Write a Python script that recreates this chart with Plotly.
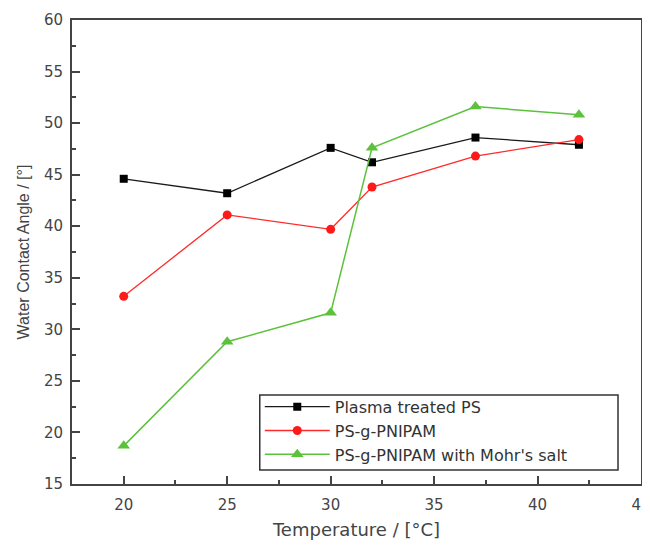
import plotly.graph_objects as go

temperature = [20, 25, 30, 32, 37, 42]
plasma_ps = [44.6, 43.2, 47.6, 46.2, 48.6, 47.9]
ps_g_pnipam = [33.2, 41.1, 39.7, 43.8, 46.8, 48.4]
ps_g_pnipam_mohr = [18.7, 28.8, 31.6, 47.6, 51.6, 50.8]

series_names = ["Plasma treated PS", "PS-g-PNIPAM", "PS-g-PNIPAM with Mohr's salt"]
x_ticks = [20, 25, 30, 35, 40, 45]
y_ticks = [15, 20, 25, 30, 35, 40, 45, 50, 55, 60]

fig = go.Figure()
fig.add_trace(go.Scatter(x=temperature, y=plasma_ps, name=series_names[0],
                         mode="lines+markers",
                         line=dict(color="#1a1a1a", width=1.3),
                         marker=dict(symbol="square", size=8, color="#000000")))
fig.add_trace(go.Scatter(x=temperature, y=ps_g_pnipam, name=series_names[1],
                         mode="lines+markers",
                         line=dict(color="#ff2a2a", width=1.3),
                         marker=dict(symbol="circle", size=9, color="#ff1a1a")))
fig.add_trace(go.Scatter(x=temperature, y=ps_g_pnipam_mohr, name=series_names[2],
                         mode="lines+markers",
                         line=dict(color="#5cc23c", width=1.5),
                         marker=dict(symbol="triangle-up", size=11, color="#5cc23c")))

tick_font = dict(family="DejaVu Sans", size=15, color="#444444")
axis_common = dict(showline=True, linecolor="#444444", linewidth=2, mirror=True,
                   ticks="inside", ticklen=8, tickwidth=1.5, tickcolor="#444444",
                   showgrid=False, zeroline=False, automargin=False,
                   tickfont=tick_font,
                   minor=dict(ticks="inside", ticklen=4, tickwidth=1.5, tickcolor="#444444"))

fig.update_xaxes(range=[17.5, 45], tickvals=x_ticks, ticklabelstandoff=6,
                 title=dict(text="Temperature / [°C]", standoff=10,
                            font=dict(family="DejaVu Sans", size=18, color="#444444")),
                 **axis_common)
fig.update_xaxes(minor_dtick=2.5)
fig.update_yaxes(range=[15, 60], tickvals=y_ticks, ticklabelstandoff=4,
                 title=dict(text="Water Contact Angle / [°]", standoff=10,
                            font=dict(family="Liberation Sans, Arial", size=16, color="#444444")),
                 **axis_common)
fig.update_yaxes(minor_dtick=2.5)

# legend frame (wider than the auto-sized legend, like the reference)
fig.add_shape(type="rect", xref="paper", yref="paper",
              x0=0.330, x1=0.9596, y0=0.030, y1=0.192,
              line=dict(color="#333333", width=1.5), fillcolor="white", layer="above")

fig.update_layout(
    width=650, height=549,
    margin=dict(l=64, r=17, t=12, b=73),
    paper_bgcolor="white", plot_bgcolor="white",
    showlegend=True,
    legend=dict(x=0.33, y=0.203, xanchor="left", yanchor="top",
                bgcolor="rgba(0,0,0,0)", borderwidth=0,
                font=dict(family="DejaVu Sans", size=16, color="#333333"),
                itemwidth=65, tracegroupgap=0),
)

fig.write_html("out.html")
